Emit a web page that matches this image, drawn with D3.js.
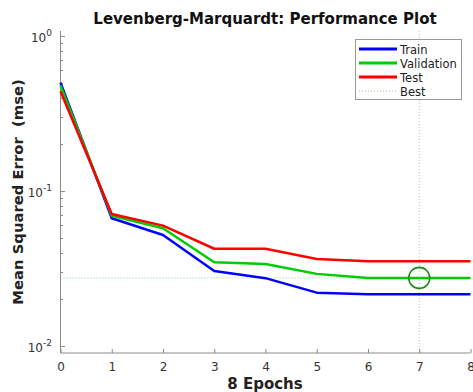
<!DOCTYPE html>
<html><head><meta charset="utf-8">
<script src="https://cdn.jsdelivr.net/npm/d3@7"></script>
<style>
body{margin:0;background:#fff;}
svg{display:block;font-family:"DejaVu Sans",sans-serif;}
</style></head>
<body><svg id="c" width="473" height="392"></svg>
<script>
const epochs = [0,1,2,3,4,5,6,7,8];
const train = [0.50, 0.0667, 0.052, 0.0305, 0.0274, 0.0221, 0.0216, 0.0216, 0.0216];
const validation = [0.48, 0.0693, 0.0575, 0.0347, 0.0338, 0.0292, 0.0275, 0.0275, 0.0275];
const test = [0.44, 0.0711, 0.0598, 0.0424, 0.0424, 0.0364, 0.0352, 0.0352, 0.0352];
const bestEpoch = 7;
const bestValue = 0.0275;
const seriesNames = ["Train","Validation","Test","Best"];
const seriesColors = ["#0000ff","#00cc00","#ff0000"];
const xTicks = [0,1,2,3,4,5,6,7,8];
const yMajor = [-2,-1,0];

const svg = d3.select("#c");
const L=60.5, R=470.5, T=31, B=353;
const x = d3.scaleLinear().domain([0,8]).range([L,R]);
const yTopLog = 0.032, yBotLog = -2.045;
const y = d3.scaleLog().domain([Math.pow(10,yBotLog), Math.pow(10,yTopLog)]).range([B,T]);
const axisCol = "#8c8c8c", textCol = "#333";

// best lines
svg.append("line").attr("x1",L).attr("x2",R).attr("y1",y(bestValue)).attr("y2",y(bestValue))
  .attr("stroke","#9fcf9f").attr("stroke-width",1).attr("stroke-dasharray","1,2");
svg.append("line").attr("x1",x(bestEpoch)).attr("x2",x(bestEpoch)).attr("y1",T).attr("y2",B)
  .attr("stroke","#9fcf9f").attr("stroke-width",1).attr("stroke-dasharray","1,2");

// axes
const xAxis = d3.axisBottom(x).tickValues(xTicks).tickSize(-4).tickPadding(9).tickFormat(d3.format("d"));
const gx = svg.append("g").attr("transform",`translate(0,${B})`).call(xAxis);
gx.select(".domain").attr("stroke",axisCol).attr("d",`M${L},0H${R}`);
gx.selectAll(".tick line").attr("stroke",axisCol);
gx.selectAll(".tick text").attr("fill",textCol).attr("font-size",12).attr("font-family","DejaVu Sans");

const gy = svg.append("g");
gy.append("line").attr("x1",L).attr("x2",L).attr("y1",T).attr("y2",B).attr("stroke",axisCol);
const minor=[];
for(let e=-3;e<=0;e++){for(let k=2;k<=9;k++){const v=k*Math.pow(10,e); if(Math.log10(v)>yBotLog && Math.log10(v)<yTopLog) minor.push(v);}}
gy.selectAll(".mn").data(minor).join("line").attr("x1",L).attr("x2",L+2.5)
  .attr("y1",d=>Math.round(y(d))+0.5).attr("y2",d=>Math.round(y(d))+0.5).attr("stroke",axisCol);
gy.selectAll(".mj").data(yMajor).join("line").attr("x1",L).attr("x2",L+4.5)
  .attr("y1",d=>Math.round(y(Math.pow(10,d)))+0.5).attr("y2",d=>Math.round(y(Math.pow(10,d)))+0.5).attr("stroke",axisCol);
const lab = gy.selectAll(".lb").data(yMajor).join("text").attr("text-anchor","end")
  .attr("x",52).attr("y",d=>y(Math.pow(10,d))+6).attr("fill",textCol).attr("font-size",12);
lab.append("tspan").text("10");
lab.append("tspan").attr("dy",-6).attr("font-size",9).text(d=>String(d));

// lines
const line = d3.line().x((d,i)=>x(epochs[i])).y(d=>y(d));
[train,validation,test].forEach((s,i)=>{
  svg.append("path").datum(s).attr("d",line).attr("fill","none").attr("stroke",seriesColors[i])
    .attr("stroke-width",2.5).attr("stroke-linejoin","round");
});
// circle
svg.append("circle").attr("cx",x(bestEpoch)).attr("cy",y(bestValue)).attr("r",10.5)
  .attr("fill","none").attr("stroke","#1e8c1e").attr("stroke-width",1.6);

// title & labels
svg.append("text").attr("x",265).attr("y",24).attr("text-anchor","middle").attr("font-weight","bold")
  .attr("font-size",15).attr("fill","#111").text("Levenberg-Marquardt: Performance Plot");
svg.append("text").attr("x",265).attr("y",389).attr("text-anchor","middle").attr("font-weight","bold")
  .attr("font-size",15).attr("fill","#222").text(xTicks[xTicks.length-1]+" Epochs");
svg.append("text").attr("transform","translate(23,192) rotate(-90)").attr("text-anchor","middle").attr("font-weight","bold")
  .attr("font-size",14.8).attr("fill","#222").attr("xml:space","preserve").text("Mean Squared Error  (mse)");

// legend
const lg = svg.append("g");
lg.append("rect").attr("x",355.5).attr("y",39.5).attr("width",106).attr("height",60)
  .attr("fill","#fff").attr("stroke","#999");
seriesNames.forEach((n,i)=>{
  const yy = 49 + i*14;
  const ln = lg.append("line").attr("x1",359).attr("x2",397).attr("y1",yy).attr("y2",yy);
  if(i<3) ln.attr("stroke",seriesColors[i]).attr("stroke-width",3);
  else ln.attr("stroke","#9fcf9f").attr("stroke-width",1).attr("stroke-dasharray","1,2");
  lg.append("text").attr("x",400).attr("y",yy+4.5).attr("font-size",11.5).attr("fill","#222").text(n);
});
</script></body></html>
